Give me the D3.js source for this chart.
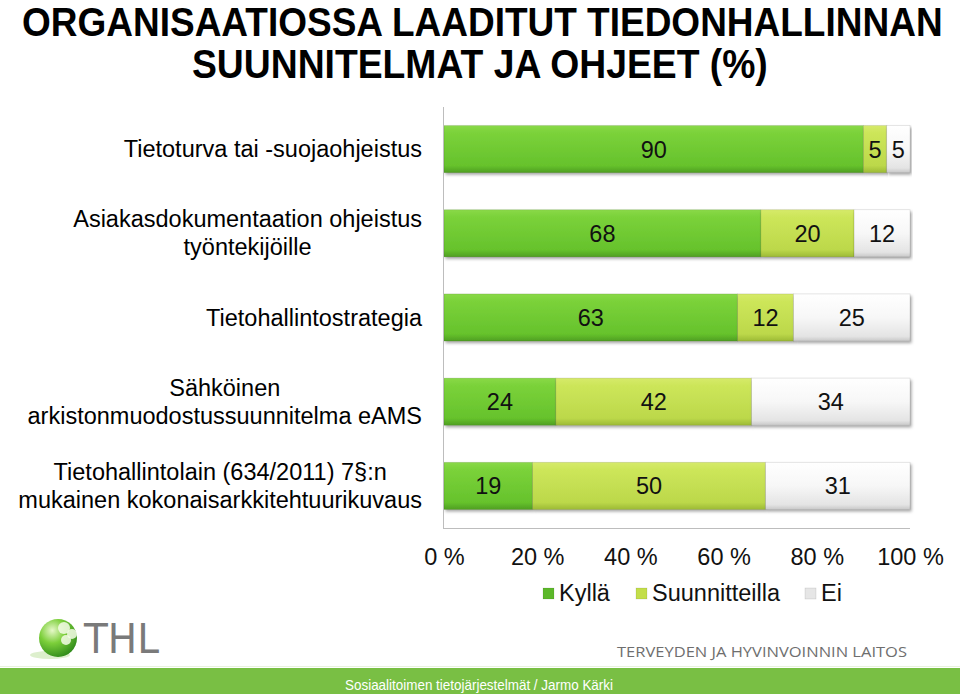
<!DOCTYPE html>
<html>
<head>
<meta charset="utf-8">
<script src="https://cdn.jsdelivr.net/npm/d3@7"></script>
<style>
  body { margin: 0; background: #fff; }
  svg { display: block; }
</style>
</head>
<body>
<script>
// data
var categories = [
  ["Tietoturva tai -suojaohjeistus"],
  ["Asiakasdokumentaation ohjeistus", "työntekijöille"],
  ["Tietohallintostrategia"],
  ["Sähköinen", "arkistonmuodostussuunnitelma eAMS"],
  ["Tietohallintolain (634/2011) 7§:n", "mukainen kokonaisarkkitehtuurikuvaus"]
];
var seriesNames = ["Kyllä", "Suunnitteilla", "Ei"];
var kylla = [90, 68, 63, 24, 19];
var suunnitteilla = [5, 20, 12, 42, 50];
var ei = [5, 12, 25, 34, 31];
var tickValues = [0, 20, 40, 60, 80, 100];

var W = 960, H = 694;
var svg = d3.select("body").append("svg").attr("width", W).attr("height", H);
var defs = svg.append("defs");

function vGrad(id, stops) {
  var g = defs.append("linearGradient").attr("id", id)
    .attr("x1", 0).attr("y1", 0).attr("x2", 0).attr("y2", 1);
  stops.forEach(function (s) {
    g.append("stop").attr("offset", s[0]).attr("stop-color", s[1]);
  });
}
vGrad("gK", [[0, "#8ad948"], [0.15, "#7bd23a"], [0.85, "#66c22c"], [1, "#4f9f22"]]);
vGrad("gS", [[0, "#d6ea6a"], [0.15, "#cde65a"], [0.85, "#bcd84a"], [1, "#9cba35"]]);
vGrad("gE", [[0, "#ffffff"], [0.5, "#f7f7f7"], [0.9, "#e4e4e4"], [1, "#c8c8c8"]]);
var fills = ["url(#gK)", "url(#gS)", "url(#gE)"];
var legendFills = ["#5cb82a", "#c3de4a", "#e6e6e6"];

var shadow = defs.append("filter").attr("id", "sh")
  .attr("x", "-5%").attr("y", "-20%").attr("width", "110%").attr("height", "150%");
shadow.append("feDropShadow").attr("dx", 1.5).attr("dy", 2).attr("stdDeviation", 1.5)
  .attr("flood-color", "#000").attr("flood-opacity", 0.35);

// title: squeeze each line to its width in the picture with a horizontal scale
var titleLines = [
  { text: "ORGANISAATIOSSA LAADITUT TIEDONHALLINNAN", x: 22, y: 36, w: 921 },
  { text: "SUUNNITELMAT JA OHJEET (%)", x: 192, y: 78, w: 576 }
];
titleLines.forEach(function (l) {
  var t = svg.append("text")
    .style("font-family", "'Liberation Sans Narrow', 'Arial Narrow', 'Liberation Sans', Arial, sans-serif")
    .style("font-weight", "bold").style("font-size", "40px").attr("fill", "#000")
    .text(l.text);
  var k = l.w / t.node().getComputedTextLength();
  t.attr("transform", "translate(" + l.x + "," + l.y + ") scale(" + k + ",1)");
});

// chart
var x = d3.scaleLinear().domain([0, 100]).range([444, 910]);
var y = d3.scaleBand().domain(d3.range(categories.length)).range([107, 528])
  .paddingInner(0.44).paddingOuter(0.22);

var rows = categories.map(function (c, i) {
  return { Kyllä: kylla[i], Suunnitteilla: suunnitteilla[i], Ei: ei[i] };
});
var stacked = d3.stack().keys(seriesNames)(rows);

var font = "'Liberation Sans', Arial, sans-serif";
var fs = "23.5px";

var layers = svg.append("g").selectAll("g").data(stacked).enter().append("g")
  .attr("fill", function (d, i) { return fills[i]; });

layers.selectAll("rect").data(function (d) { return d; }).enter().append("rect")
  .attr("x", function (d) { return x(d[0]); })
  .attr("y", function (d, i) { return y(i); })
  .attr("width", function (d) { return x(d[1]) - x(d[0]); })
  .attr("height", y.bandwidth())
  .attr("stroke", "rgba(0,0,0,0.12)")
  .attr("stroke-width", 0.8)
  .attr("filter", "url(#sh)");

layers.selectAll("text").data(function (d) { return d; }).enter().append("text")
  .attr("x", function (d) { return (x(d[0]) + x(d[1])) / 2; })
  .attr("y", function (d, i) { return y(i) + y.bandwidth() / 2 + 8.5; })
  .attr("text-anchor", "middle")
  .style("font-family", font).style("font-size", fs).attr("fill", "#111")
  .text(function (d) { return d[1] - d[0]; });

// axes lines
svg.append("line").attr("x1", 443.5).attr("x2", 443.5).attr("y1", 107).attr("y2", 528)
  .attr("stroke", "#bdbdbd").attr("stroke-width", 1);
svg.append("line").attr("x1", 443).attr("x2", 910).attr("y1", 528.5).attr("y2", 528.5)
  .attr("stroke", "#bdbdbd").attr("stroke-width", 1);

var xAxis = svg.append("g").attr("transform", "translate(0,544)")
  .call(d3.axisBottom(x).tickValues(tickValues).tickSize(0).tickPadding(0)
    .tickFormat(function (d) { return d + " %"; }));
xAxis.select(".domain").remove();
xAxis.selectAll("text").style("font-family", font).style("font-size", fs)
  .attr("fill", "#111").attr("dy", "0.9em");

// category labels, centred blocks with right edge at 422
var labG = svg.append("g").style("font-family", font).style("font-size", fs).attr("fill", "#000");
categories.forEach(function (lines, i) {
  var g = labG.append("g");
  var cy = y(i) + y.bandwidth() / 2;
  var lh = 28;
  var t = lines.map(function (l, j) {
    return g.append("text").attr("text-anchor", "middle")
      .attr("y", cy + (j - (lines.length - 1) / 2) * lh + 8).text(l);
  });
  var maxW = d3.max(t, function (s) { return s.node().getComputedTextLength(); });
  t.forEach(function (s) { s.attr("x", 422 - maxW / 2); });
});

// legend
var legX = [543, 636, 805];
var leg = svg.append("g").style("font-family", font).style("font-size", fs);
seriesNames.forEach(function (n, i) {
  leg.append("rect").attr("x", legX[i]).attr("y", 588).attr("width", 11).attr("height", 11)
    .attr("fill", legendFills[i]).attr("stroke", "rgba(0,0,0,0.15)").attr("stroke-width", 0.6);
  leg.append("text").attr("x", legX[i] + 16).attr("y", 601).attr("fill", "#111").text(n);
});

// THL logo
var rg = defs.append("radialGradient").attr("id", "ball").attr("cx", "35%").attr("cy", "30%").attr("r", "75%");
rg.append("stop").attr("offset", 0).attr("stop-color", "#e6f8c8");
rg.append("stop").attr("offset", 0.45).attr("stop-color", "#7ccf3a");
rg.append("stop").attr("offset", 1).attr("stop-color", "#2f8a1a");
svg.append("ellipse").attr("cx", 50).attr("cy", 655).attr("rx", 20).attr("ry", 4)
  .attr("fill", "#cfe8b8").attr("opacity", 0.7);
svg.append("circle").attr("cx", 58).attr("cy", 638).attr("r", 19).attr("fill", "url(#ball)");
[[64, 628, 6], [72, 634, 5], [66, 640, 5]].forEach(function (p) {
  svg.append("circle").attr("cx", p[0]).attr("cy", p[1]).attr("r", p[2])
    .attr("fill", "#f4fbe8").attr("opacity", 0.85);
});
svg.append("text").attr("x", 84).attr("y", 653)
  .style("font-family", "'DejaVu Sans', 'Liberation Sans', sans-serif").style("font-size", "40px")
  .attr("fill", "#7a7a7a").attr("textLength", 75).attr("lengthAdjust", "spacingAndGlyphs").text("THL");

svg.append("text").attr("x", 617).attr("y", 657)
  .style("font-family", "'Open Sans', 'Noto Sans', sans-serif").style("font-size", "15px")
  .attr("fill", "#6e6e6e").attr("textLength", 290).attr("lengthAdjust", "spacingAndGlyphs")
  .text("TERVEYDEN JA HYVINVOINNIN LAITOS");

// footer band
svg.append("line").attr("x1", 0).attr("x2", W).attr("y1", 666.5).attr("y2", 666.5)
  .attr("stroke", "#e8f3dd").attr("stroke-width", 1);
svg.append("rect").attr("x", 0).attr("y", 668).attr("width", W).attr("height", H - 668)
  .attr("fill", "#79bf44");
svg.append("text").attr("x", 479).attr("y", 690).attr("text-anchor", "middle")
  .style("font-family", "'Liberation Sans Narrow', 'Liberation Sans', Arial, sans-serif")
  .style("font-size", "15px").attr("fill", "#fff")
  .attr("textLength", 268).attr("lengthAdjust", "spacingAndGlyphs")
  .text("Sosiaalitoimen tietojärjestelmät / Jarmo Kärki");
</script>
</body>
</html>
